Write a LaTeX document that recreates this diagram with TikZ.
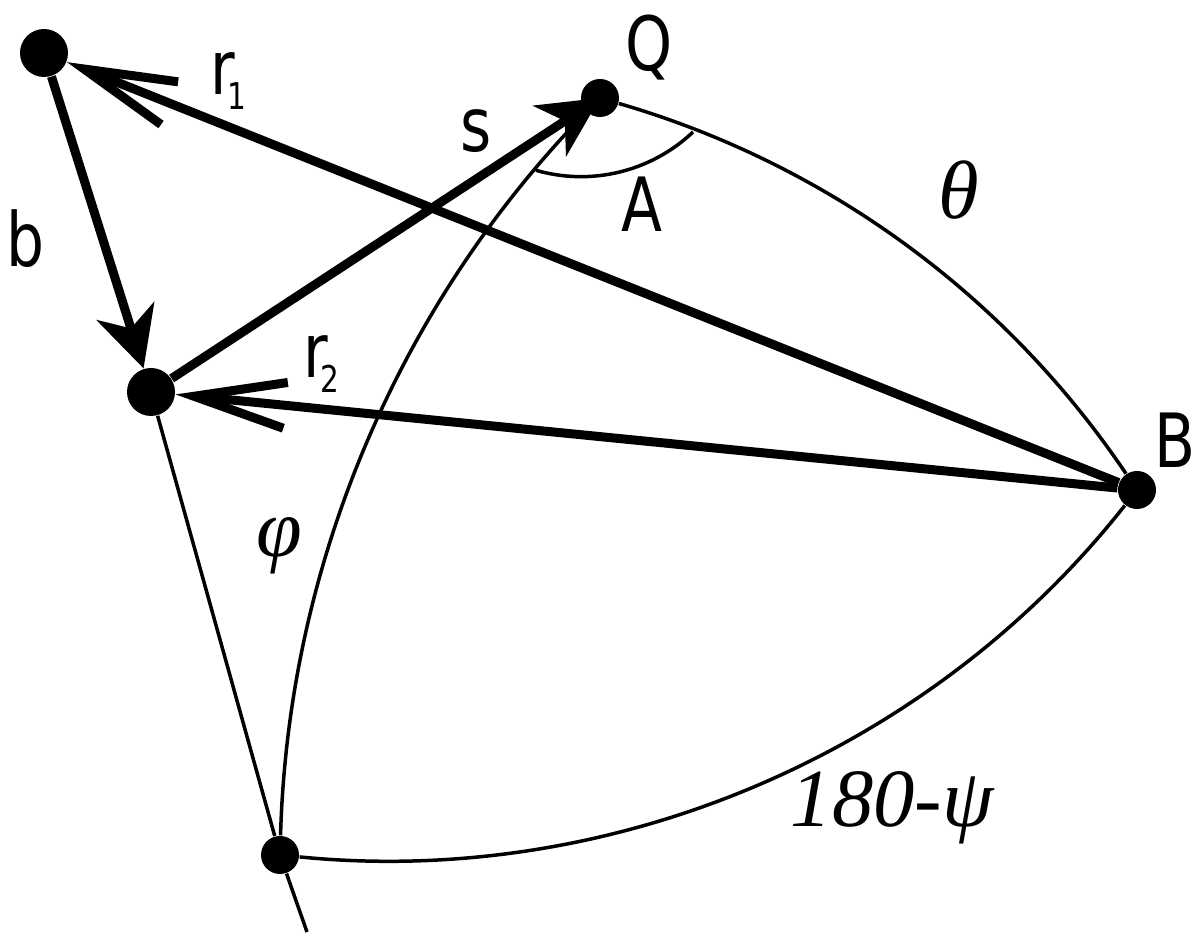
\documentclass[tikz,border=0pt]{standalone}
\usepackage{fontspec}
\newfontfamily\lblfont[FakeStretch=0.8]{DejaVu Sans}
\newfontfamily\grkfont{Liberation Serif}
\usetikzlibrary{arrows.meta}

\begin{document}
\begin{tikzpicture}[x=0.1mm, y=0.1mm,
		thickline/.style={line width=0.9mm},
		thinline/.style={line width=0.35mm},
		bigdot/.style={circle, fill=black, inner sep=0pt, minimum size=4.8mm},
		smalldot/.style={bigdot, minimum size=3.8mm},
		barb/.style={-{Straight Barb[length=9.2mm, width=4.6mm]}},
		head/.style={-{Stealth[length=6mm, width=6mm, inset=1.8mm]}},
		lbl/.style={inner sep=0pt, anchor=base west,
			font=\lblfont\fontsize{21.3}{25}\selectfont},
		greek/.style={inner sep=0pt, anchor=base west,
			font=\grkfont\itshape\fontsize{23.5}{27}\selectfont}]

	\useasboundingbox (0,0) rectangle (1200,938);

	\node[bigdot] (P1) at (44,885) {};
	\node[bigdot] (P2) at (151,546) {};
	\node[smalldot] (Q) at (600,840) {};
	\node[smalldot] (B) at (1137,448) {};
	\node[smalldot] (C) at (280,83) {};
	\coordinate (Cend) at (307,6);
	\coordinate (Astart) at (693,806);

	% great circle arcs
	\draw[thinline] (P2) -- (C) -- (Cend);
	\draw[thinline] (C) to[bend left=21.3, looseness=0.88] (Q);
	\draw[thinline] (Q) to[bend left=19.9, looseness=0.88] (B);
	\draw[thinline] (B) to[bend left=28.7, looseness=0.9] (C);
	\draw[thinline] (Astart) arc[start angle=-46.5, end angle=-106.1, radius=162.7];

	% vectors
	\draw[thickline, barb] (B) -- (P1);
	\draw[thickline, barb] (B) -- (P2);
	\draw[thickline, head] (P1) -- (P2);
	\draw[thickline, head] (P2) -- (Q.center);

	\node[lbl] (r1) at (210,843) {r\kern-0.1em\raisebox{-0.2em}{\fontsize{10.5}{12}\selectfont 1}};
	\node[lbl] (r2) at (303,560) {r\kern-0.1em\raisebox{-0.2em}{\fontsize{10.5}{12}\selectfont 2}};
	\node[lbl] (lb) at (6,671) {b};
	\node[lbl] (ls) at (460,786) {s};
	\node[lbl] (lQ) at (625,867) {Q};
	\node[lbl] (lA) at (621,706) {A};
	\node[lbl] (lB) at (1154,470) {B};
	\node[greek] (th) at (938,719) {θ};
	\node[greek] (ph) at (256,381) {φ};
	\node[greek] (ps) at (790,111) {180-ψ};
\end{tikzpicture}
\end{document}
